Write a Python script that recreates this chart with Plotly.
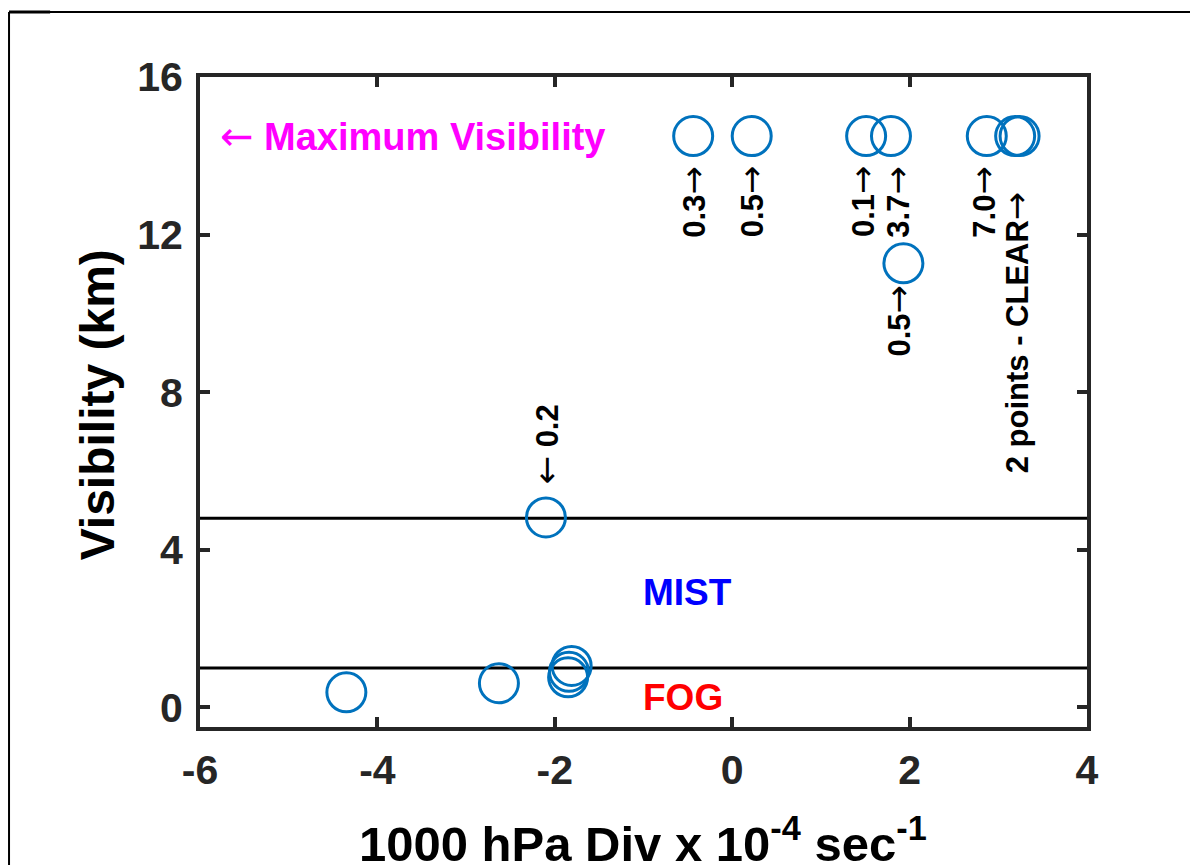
import plotly.graph_objects as go

# observed cases: 1000 hPa divergence (x 10^-4 s^-1) vs visibility (km)
div_x = [-4.35, -2.63, -1.81, -1.84, -1.85, -2.10, -0.44, 0.22, 1.51, 1.79, 1.93, 2.87, 3.19, 3.24]
vis_y = [0.38, 0.61, 1.05, 0.90, 0.76, 4.82, 14.5, 14.5, 14.5, 14.5, 11.27, 14.5, 14.5, 14.5]

# rotated value labels next to the points
label_text = ["0.3→", "0.5→", "0.1→", "3.7→", "0.5→", "7.0→", "2 points - CLEAR→", "← 0.2"]
label_x = [-0.44, 0.22, 1.47, 1.86, 1.87, 2.83, 3.20, -2.10]
label_y = [12.84, 12.84, 12.84, 12.84, 9.82, 12.84, 9.52, 6.67]

# visibility thresholds (km)
fog_top = 1.0
mist_top = 4.8

x_ticks = [-6, -4, -2, 0, 2, 4]
x_tick_text = ["-6", "-4", "-2", "0", "2", "4"]
y_ticks = [0, 4, 8, 12, 16]

FONT = "Liberation Sans, Arial, sans-serif"
AX = "#262626"


def thin_arrows(s, size):
    # MATLAB's TeX arrows are thin and long: draw them in a lighter font
    for a in ("→", "←"):
        s = s.replace(a, f"<span style='font-weight:normal;font-family:DejaVu Sans;"
                         f"font-size:{size}px'>{a}</span>")
    return s


fig = go.Figure()

fig.add_trace(go.Scatter(
    x=div_x, y=vis_y, mode="markers",
    marker=dict(symbol="circle-open", size=39, color="#0072BD",
                line=dict(width=3, color="#0072BD")),
    showlegend=False, hoverinfo="x+y",
))

for yv in (fog_top, mist_top):
    fig.add_hline(y=yv, line_color="black", line_width=3, layer="below")

for t, xv, yv in zip(label_text, label_x, label_y):
    fig.add_annotation(
        x=xv, y=yv, text=thin_arrows(t, 34), textangle=-90, showarrow=False,
        xanchor="center", yanchor="middle",
        font=dict(family=FONT, size=31, color="black", weight="bold"),
    )

fig.add_annotation(x=-5.80, y=14.5, text=thin_arrows("← Maximum Visibility", 40),
                   showarrow=False, xanchor="left", yanchor="middle",
                   font=dict(family=FONT, size=38, color="#FF00FF", weight="bold"))
fig.add_annotation(x=-0.5, y=2.92, text="MIST", showarrow=False,
                   font=dict(family=FONT, size=37, color="#0000FF", weight="bold"))
fig.add_annotation(x=-0.55, y=0.25, text="FOG", showarrow=False,
                   font=dict(family=FONT, size=37, color="#FF0000", weight="bold"))

# axis titles placed by hand
fig.add_annotation(xref="paper", yref="paper", x=0.499, y=-0.174,
                   text="1000 hPa Div x 10<sup>-4</sup> sec<sup>-1</sup>",
                   showarrow=False, xanchor="center", yanchor="middle",
                   font=dict(family=FONT, size=49, color="black", weight="bold"))
fig.add_annotation(xref="paper", yref="paper", x=-0.116, y=0.495,
                   text="Visibility (km)", textangle=-90,
                   showarrow=False, xanchor="center", yanchor="middle",
                   font=dict(family=FONT, size=48, color="black", weight="bold"))

# figure frame (left and top edges)
frame = dict(type="line", xref="paper", yref="paper", line=dict(color="black", width=2))
fig.add_shape(x0=-0.2153, y0=1.1, x1=1.124, y1=1.1, **frame)
fig.add_shape(x0=-0.2153, y0=1.1, x1=-0.2153, y1=-0.215, **frame)
fig.add_shape(type="line", xref="paper", yref="paper", x0=-0.2153, y0=1.1, x1=-0.169, y1=1.1,
              line=dict(color="black", width=3))

axis_common = dict(
    showline=True, linewidth=4, linecolor=AX, mirror="allticks",
    ticks="inside", ticklen=10, tickwidth=3.5, tickcolor=AX,
    showgrid=False, zeroline=False,
    tickfont=dict(family=FONT, size=41, color=AX, weight="bold"),
)

fig.update_xaxes(range=[-6, 4], tickvals=x_ticks, ticktext=x_tick_text,
                 ticklabelstandoff=4, **axis_common)
fig.update_yaxes(range=[-0.5, 16], tickvals=y_ticks, ticklabelstandoff=5, **axis_common)

# the page adds an 8px body margin, so the margins are 8px smaller than the target offsets
fig.update_layout(
    width=1198, height=865,
    margin=dict(l=192, r=119, t=69, b=146),
    plot_bgcolor="white", paper_bgcolor="white",
    font=dict(family=FONT),
)

fig.write_html("out.html")
